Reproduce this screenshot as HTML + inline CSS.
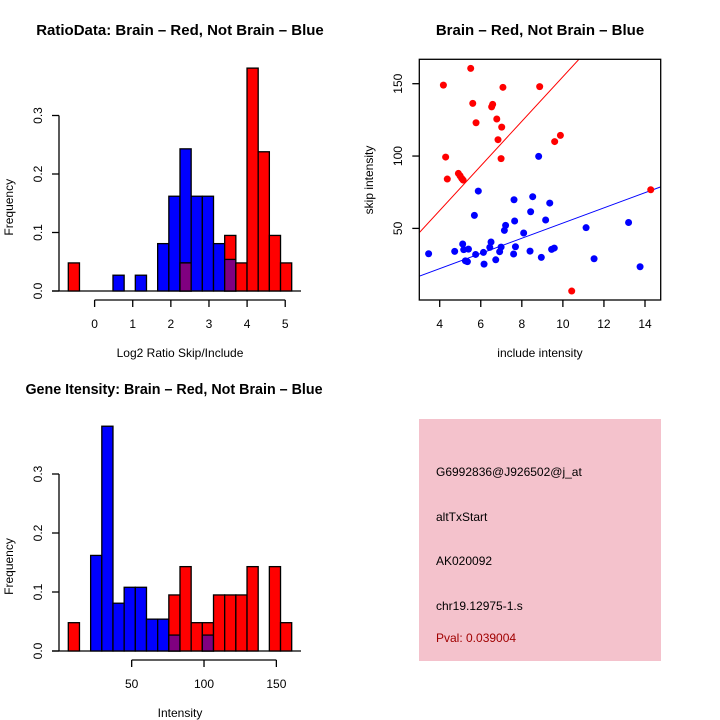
<!DOCTYPE html>
<html><head><meta charset="utf-8"><style>
body{margin:0;background:#fff;}
svg{display:block;font-family:"Liberation Sans",sans-serif;}
</style></head><body>
<svg id="s" width="720" height="720" viewBox="0 0 720 720">
<rect width="720" height="720" fill="#fff"/>
<text x="180" y="35" text-anchor="middle" font-size="15" font-weight="bold">RatioData: Brain – Red, Not Brain – Blue</text>
<text x="540" y="35" text-anchor="middle" font-size="15" font-weight="bold">Brain – Red, Not Brain – Blue</text>
<text x="174" y="394" text-anchor="middle" font-size="14.3" font-weight="bold">Gene Itensity: Brain – Red, Not Brain – Blue</text>
<g id="h1"></g>
<g id="sc"></g>
<g id="h2"></g>
<g>
<rect x="419" y="419" width="242" height="242" fill="#f4c2cc"/>
<g font-size="12">
<text x="436" y="476">G6992836@J926502@j_at</text>
<text x="436" y="521">altTxStart</text>
<text x="436" y="565">AK020092</text>
<text x="436" y="610">chr19.12975-1.s</text>
<text x="436" y="642" fill="#a00000">Pval: 0.039004</text>
</g></g>
</svg>
<script>
// Ratio histogram data (20 bins)
const ratioBinStart = -0.69, ratioBinWidth = 0.293;
const ratioRed  = [0.048,0,0,0,0,0,0,0,0,0,0.048,0,0,0,0.095,0.048,0.381,0.238,0.095,0.048];
const ratioBlue = [0,0,0,0,0.027,0,0.027,0,0.081,0.162,0.243,0.162,0.162,0.081,0.054,0,0,0,0,0];
const ratioXTicks = [0,1,2,3,4,5];
const freqTicks = [0.0,0.1,0.2,0.3];
// Intensity histogram data
const intBinStart = 6.2, intBinWidth = 7.72;
const intRed  = [0.048,0,0,0,0,0,0,0,0,0.095,0.143,0.048,0.048,0.095,0.095,0.095,0.143,0,0.143,0.048];
const intBlue = [0,0,0.162,0.381,0.081,0.108,0.108,0.054,0.054,0.027,0,0,0.027,0,0,0,0,0,0,0];
const intXTicks = [50,100,150];
// Scatter data
const redX = [5.51,4.18,7.08,8.87,5.61,6.53,6.58,5.77,6.78,7.02,6.84,9.6,9.88,4.29,6.99,4.37,4.91,4.99,5.07,5.14,14.28,10.43];
const redY = [160.6,149,147.5,148,136.4,134,135.7,123,125.6,120,111.3,110,114.3,99.3,98.2,84.1,88,86.4,84.6,83.4,76.7,6.7];
const blueX = [8.82,5.88,7.62,8.53,9.36,5.69,8.43,7.65,9.16,7.21,7.15,8.09,11.13,13.2,3.46,4.73,5.12,5.17,5.4,5.25,5.35,5.75,6.13,6.16,6.5,6.44,6.92,6.99,6.73,7.6,7.69,8.4,8.95,9.45,9.58,11.52,13.76];
const blueY = [99.8,75.8,69.8,71.9,67.5,59,61.5,55.1,55.8,52.1,48.6,46.8,50.5,54.1,32.5,34.1,39.2,35.3,35.7,27.6,27,32,33.4,25.3,40.6,36.9,33.9,37.1,28.3,32.3,37.3,34.3,30,35.5,36.4,29,23.5];
const redFit = [0.8,15.4], blueFit = [1.2,5.25];
const scXTicks = [4,6,8,10,12,14], scYTicks = [50,100,150];

const NS="http://www.w3.org/2000/svg";
function mk(p,t,a){const e=document.createElementNS(NS,t);for(const k in a)e.setAttribute(k,a[k]);p.appendChild(e);return e;}

function hist(g,y0,pxPerUnit,binStart,binW,red,blue,xTicks,xlabel,axisY){
  const sy=v=>y0-v*pxPerUnit;
  const bw=11.17;
  const bx=i=>68.3+i*bw;
  const xax=v=>68.3+(v-binStart)/binW*bw;
  mk(g,'line',{x1:52,y1:y0,x2:301,y2:y0,stroke:'#000','stroke-width':1.3});
  for(let i=0;i<red.length;i++){
    const r=red[i],b=blue[i];
    if(b>0){const e=mk(g,'rect',{x:bx(i),y:sy(b),width:bw,height:y0-sy(b),fill:'#0000ff',stroke:'#000','stroke-width':1.3});
      
      }
    if(r>0){const e=mk(g,'rect',{x:bx(i),y:sy(r),width:bw,height:y0-sy(r),fill:'#ff0000',stroke:'#000','stroke-width':1.3});
      
      }
    if(r>0&&b>0){const m=Math.min(r,b);const e=mk(g,'rect',{x:bx(i),y:sy(m),width:bw,height:y0-sy(m),fill:'#800080',stroke:'#000','stroke-width':1.3});
      
      }
  }
  mk(g,'line',{x1:59,y1:sy(0),x2:59,y2:sy(0.3),stroke:'#000','stroke-width':1.3});
  freqTicks.forEach(v=>{mk(g,'line',{x1:52,y1:sy(v),x2:59,y2:sy(v),stroke:'#000','stroke-width':1.3});
    const t=mk(g,'text',{x:0,y:0,transform:`translate(42,${sy(v)}) rotate(-90)`,'text-anchor':'middle','font-size':12});
    t.textContent=v.toFixed(1);
    
    });
  const yl=mk(g,'text',{transform:`translate(13,${sy(0.15)+4}) rotate(-90)`,'text-anchor':'middle','font-size':12});
  yl.textContent='Frequency';
  
  
  mk(g,'line',{x1:xax(xTicks[0]),y1:axisY,x2:xax(xTicks[xTicks.length-1]),y2:axisY,stroke:'#000','stroke-width':1.3});
  xTicks.forEach(v=>{mk(g,'line',{x1:xax(v),y1:axisY,x2:xax(v),y2:axisY+7,stroke:'#000','stroke-width':1.3});
    const t=mk(g,'text',{x:xax(v),y:axisY+28,'text-anchor':'middle','font-size':12});t.textContent=v;
    
    });
  const xl=mk(g,'text',{x:180,y:axisY+57,'text-anchor':'middle','font-size':12});xl.textContent=xlabel;
  
  
}
hist(document.getElementById('h1'),291,585,ratioBinStart,ratioBinWidth,ratioRed,ratioBlue,ratioXTicks,'Log2 Ratio Skip/Include',300);
hist(document.getElementById('h2'),651,590,intBinStart,intBinWidth,intRed,intBlue,intXTicks,'Intensity',660);

(function(){
  const g=document.getElementById('sc');
  const L=419.3,R=660.7,T=59.3,B=300;
  const sx=v=>439.7+(v-4)*20.53, sy=v=>83.7-(v-150)*1.447;
  const cp=mk(g,'clipPath',{id:'cp'});mk(cp,'rect',{x:L,y:T,width:R-L,height:B-T});
  const xmin=(L-439.7)/20.53+4, xmax=(R-439.7)/20.53+4;
  [[redFit,'#ff0000','red-fit-line'],[blueFit,'#0000ff','blue-fit-line']].forEach(([f,c,n])=>{
    const l=mk(g,'line',{x1:sx(xmin),y1:sy(f[0]+f[1]*xmin),x2:sx(xmax),y2:sy(f[0]+f[1]*xmax),stroke:c,'stroke-width':1,'clip-path':'url(#cp)'});
    
    
  });
  redX.forEach((x,i)=>{const c=mk(g,'circle',{cx:sx(x),cy:sy(redY[i]),r:3.5,fill:'#ff0000'});
    
    });
  blueX.forEach((x,i)=>{const c=mk(g,'circle',{cx:sx(x),cy:sy(blueY[i]),r:3.5,fill:'#0000ff'});
    
    });
  mk(g,'rect',{x:L,y:T,width:R-L,height:B-T,fill:'none',stroke:'#000','stroke-width':1.3});
  scXTicks.forEach(v=>{mk(g,'line',{x1:sx(v),y1:B,x2:sx(v),y2:B+7,stroke:'#000','stroke-width':1.3});
    const t=mk(g,'text',{x:sx(v),y:B+28,'text-anchor':'middle','font-size':12});t.textContent=v;
    
    });
  scYTicks.forEach(v=>{mk(g,'line',{x1:L-7,y1:sy(v),x2:L,y2:sy(v),stroke:'#000','stroke-width':1.3});
    const t=mk(g,'text',{transform:`translate(402,${sy(v)}) rotate(-90)`,'text-anchor':'middle','font-size':12});t.textContent=v;
    
    });
  const xl=mk(g,'text',{x:540,y:357,'text-anchor':'middle','font-size':12});xl.textContent='include intensity';
  
  
  const yl=mk(g,'text',{transform:'translate(373,180) rotate(-90)','text-anchor':'middle','font-size':12});yl.textContent='skip intensity';
  
  
})();
</script>
</body></html>
